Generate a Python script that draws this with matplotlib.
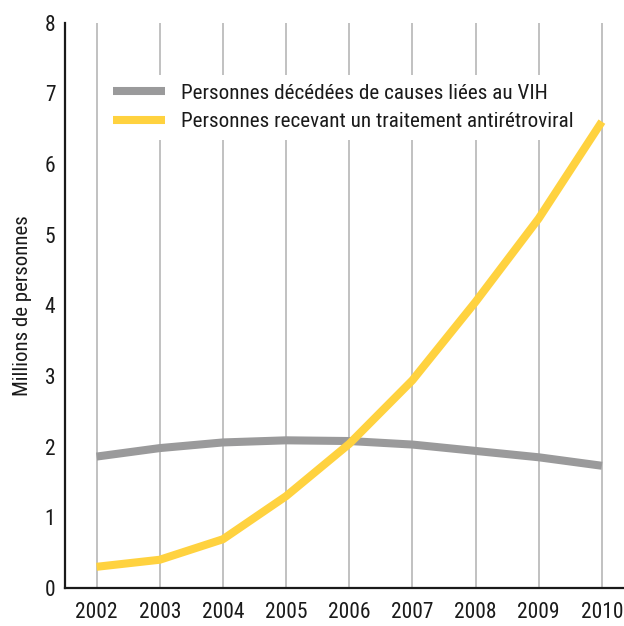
import matplotlib
matplotlib.use("Agg")
import matplotlib.pyplot as plt
from matplotlib import font_manager
from matplotlib.font_manager import FontProperties

annees = [2002, 2003, 2004, 2005, 2006, 2007, 2008, 2009, 2010]
deces = [1.86, 1.98, 2.06, 2.09, 2.08, 2.03, 1.94, 1.85, 1.73]
traitement = [0.30, 0.40, 0.69, 1.30, 2.04, 2.94, 4.05, 5.23, 6.60]

# police étroite si possible
fichier = None
for cle in ['robotocondensed-regular', 'liberationsansnarrow-regular',
            'dejavusanscondensed.ttf', 'condensed-regular', 'narrow']:
    for f in font_manager.fontManager.ttflist:
        nom = f.fname.lower().replace('_', '').replace(' ', '')
        if cle in nom and 'bold' not in nom and 'italic' not in nom and 'oblique' not in nom:
            fichier = f.fname
            break
    if fichier:
        break

def police(taille):
    if fichier:
        return FontProperties(fname=fichier, size=taille)
    return FontProperties(family='DejaVu Sans', size=taille)

fig = plt.figure(figsize=(6.24, 6.26), dpi=100)
ax = fig.add_axes([0.1042, 0.0607, 0.8958, 0.9030])

for a in annees:
    ax.axvline(a, color='#b0b0b0', lw=1.1, zorder=0)

ax.plot(annees, deces, color='#9a9a9b', lw=5.8, solid_capstyle='butt',
        label='Personnes décédées de causes liées au VIH', zorder=2)
ax.plot(annees, traitement, color='#ffd23f', lw=5.8, solid_capstyle='butt',
        label='Personnes recevant un traitement antirétroviral', zorder=3)

ax.set_xlim(2001.5, 2010.35)
ax.set_ylim(0, 8)
ax.set_xticks(annees)
ax.set_yticks(range(0, 9))
ax.tick_params(axis='both', length=0, colors='#1a1a1a')
ax.tick_params(axis='x', pad=10)
ax.tick_params(axis='y', pad=7)
for lab in ax.get_xticklabels():
    lab.set_fontproperties(police(15.5))
for lab in ax.get_yticklabels():
    lab.set_fontproperties(police(15.5))
for s in ['top', 'right']:
    ax.spines[s].set_visible(False)
for s in ['left', 'bottom']:
    ax.spines[s].set_linewidth(1.6)
    ax.spines[s].set_color('#1a1a1a')

ax.set_ylabel('Millions de personnes', fontproperties=police(15),
              color='#1a1a1a', labelpad=9)

leg = ax.legend(loc='upper left', bbox_to_anchor=(0.07, 0.907), frameon=True,
                prop=police(15.2), handlelength=2.5, handletextpad=0.75,
                borderaxespad=0, labelspacing=0.46)
leg.get_frame().set_facecolor('white')
leg.get_frame().set_edgecolor('none')
leg.get_frame().set_alpha(1)
for t in leg.get_texts():
    t.set_color('#1a1a1a')

fig.savefig('out.png', dpi=100)
